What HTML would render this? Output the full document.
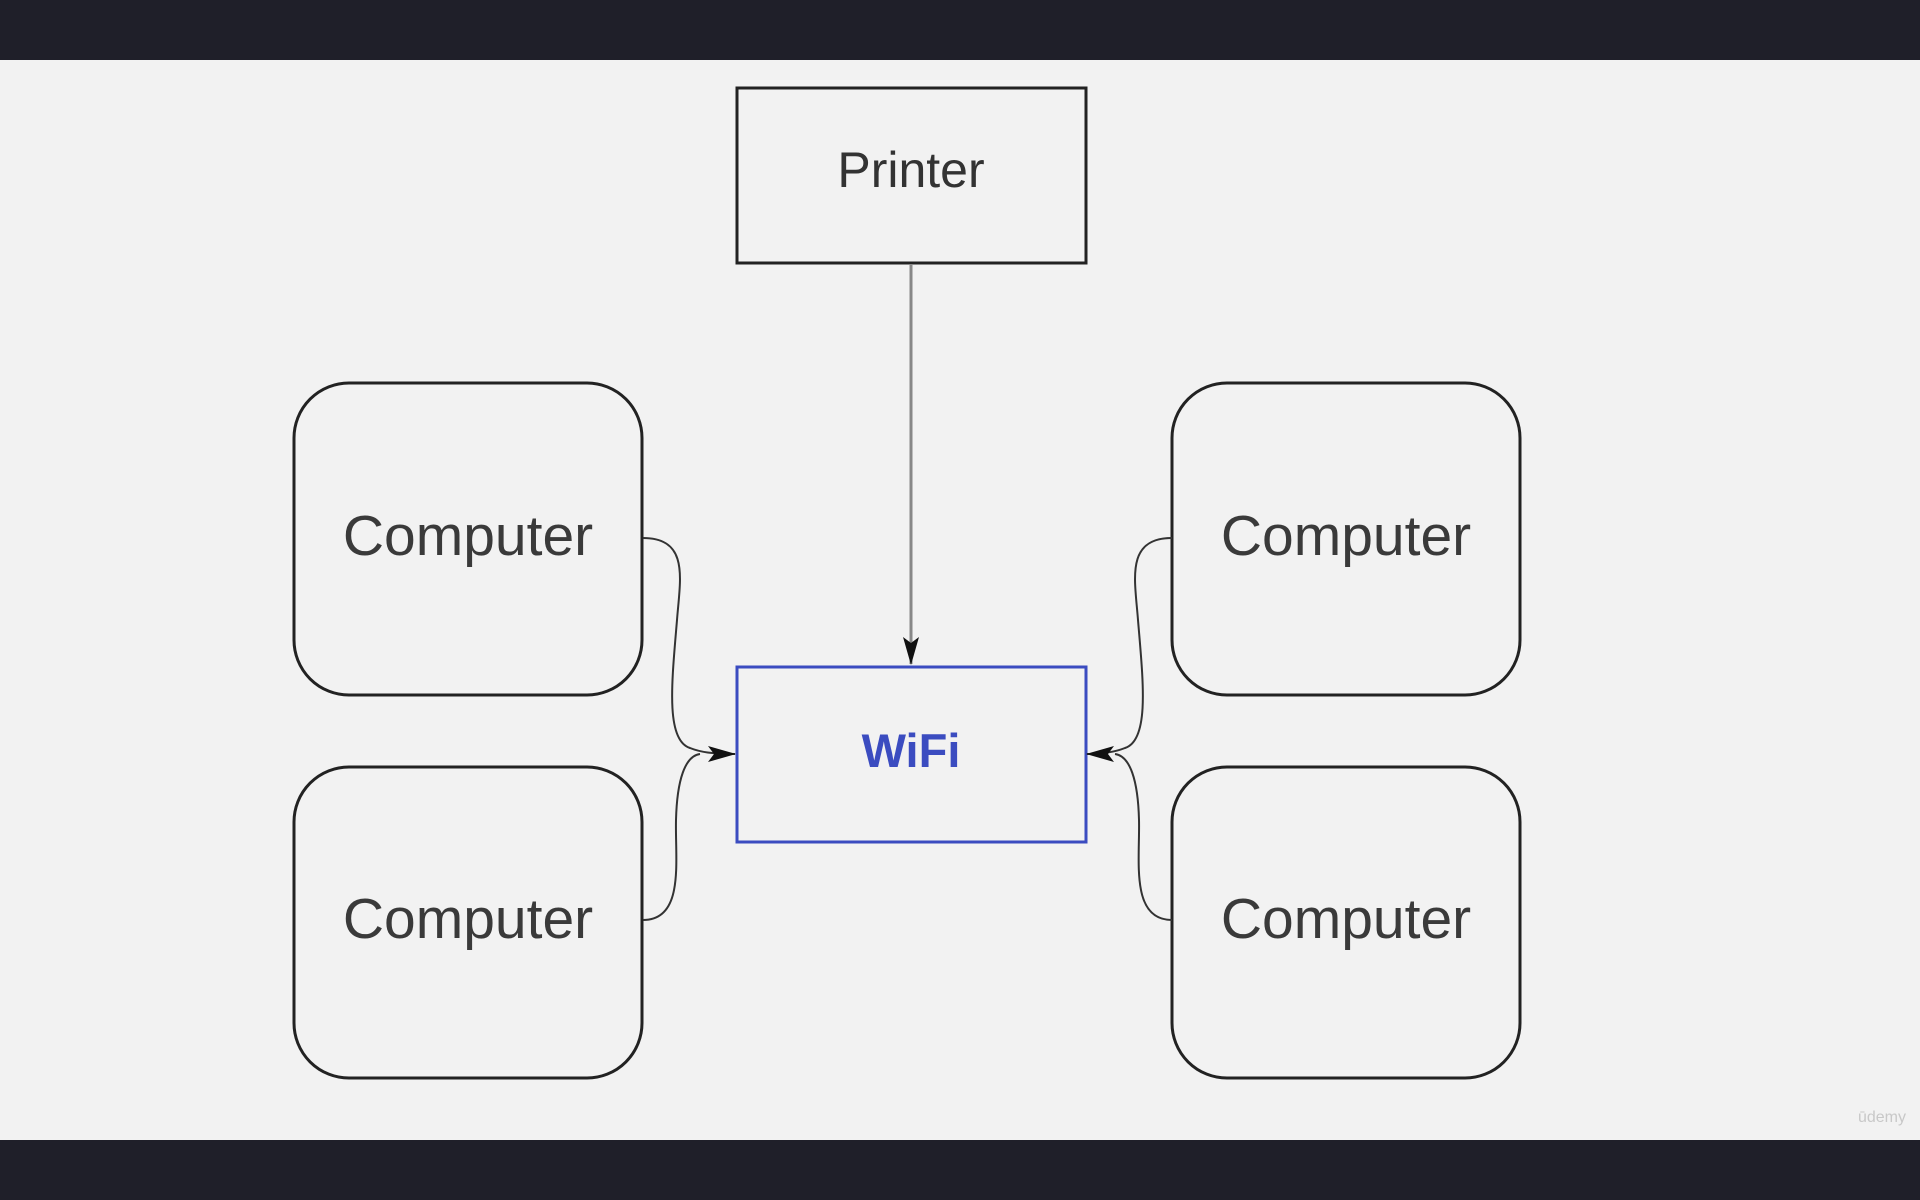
<!DOCTYPE html>
<html><head><meta charset="utf-8"><style>
html,body{margin:0;padding:0;width:1920px;height:1200px;overflow:hidden;background:#f2f2f2;}
.bar{position:absolute;left:0;width:1920px;background:#1f1f29;}
text{font-family:"Liberation Sans","DejaVu Sans",sans-serif;}
</style></head><body>
<div class="bar" style="top:0;height:60px"></div>
<div class="bar" style="top:1140px;height:60px"></div>
<svg width="1920" height="1200" style="position:absolute;left:0;top:0">
<defs>
<marker id="b" markerWidth="28" markerHeight="16" refX="27" refY="8" orient="auto" markerUnits="userSpaceOnUse" viewBox="0 0 28 16">
<path d="M0,0 L28,8 L0,16 L6,8 z" fill="#111"/></marker>
</defs>
<rect x="737" y="88" width="349" height="175" fill="none" stroke="#222" stroke-width="3"/>
<text x="911" y="187" font-size="50" fill="#333" text-anchor="middle">Printer</text>
<g fill="none" stroke="#222" stroke-width="3">
<rect x="294" y="383" width="348" height="312" rx="55"/>
<rect x="294" y="767" width="348" height="311" rx="55"/>
<rect x="1172" y="383" width="348" height="312" rx="55"/>
<rect x="1172" y="767" width="348" height="311" rx="55"/>
</g>
<g font-size="57" fill="#3a3a3a" text-anchor="middle">
<text x="468" y="555">Computer</text>
<text x="468" y="938">Computer</text>
<text x="1346" y="555">Computer</text>
<text x="1346" y="938">Computer</text>
</g>
<rect x="737" y="667" width="349" height="175" fill="none" stroke="#3b4cc0" stroke-width="3"/>
<text x="911" y="767" font-size="47" font-weight="bold" fill="#3b4cc0" text-anchor="middle">WiFi</text>
<line x1="911" y1="265" x2="911" y2="664" stroke="#888" stroke-width="3" marker-end="url(#b)"/>
<g fill="none" stroke="#333" stroke-width="2">
<path d="M643,538 C690,538 680,580 677,620 C672,680 665,740 690,748 C700,752 712,754 735,754" marker-end="url(#b)"/>
<path d="M643,920 C685,920 675,860 676,820 C677,780 685,756 700,754"/>
<g transform="translate(1815,0) scale(-1,1)">
<path d="M643,538 C690,538 680,580 677,620 C672,680 665,740 690,748 C700,752 712,754 728,754" marker-end="url(#b)"/>
<path d="M643,920 C685,920 675,860 676,820 C677,780 685,756 700,754"/>
</g>
</g>
<text x="1906" y="1122" font-size="16" fill="#c8c8c8" text-anchor="end">ūdemy</text>
</svg>
</body></html>
